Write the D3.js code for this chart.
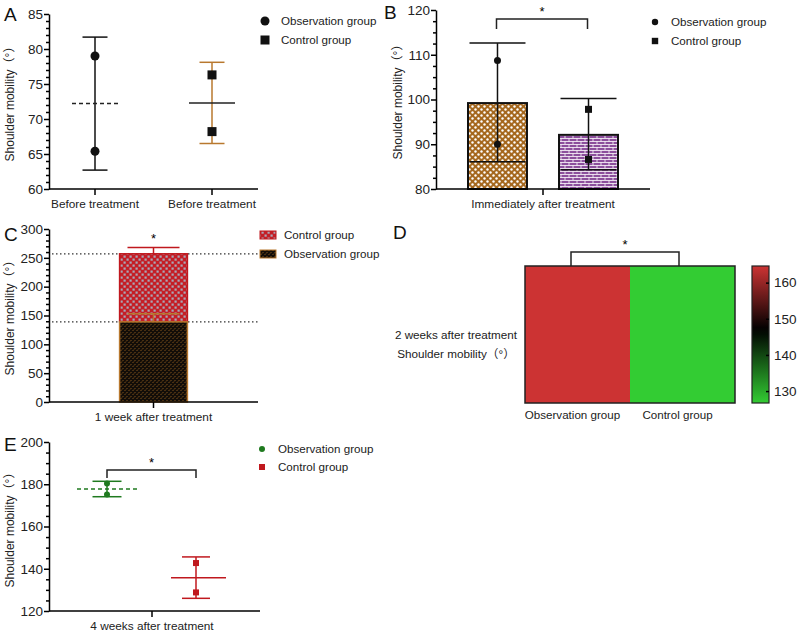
<!DOCTYPE html>
<html>
<head>
<meta charset="utf-8">
<script src="https://cdn.jsdelivr.net/npm/d3@7"></script>
<style>
  body { margin: 0; background: #fff; }
  svg { font-family: "Liberation Sans", Arial, "Noto Sans CJK SC", sans-serif; }
  .axis text { font-size: 13.5px; fill: #222; }
  .axis path, .axis line { stroke: #000; stroke-width: 1.5; }
</style>
</head>
<body>
<div id="chart"></div>
<script>
// ---- data ----
// A: before treatment
var groupsA = ["Observation group", "Control group"];
var catLabelsA = ["Before treatment", "Before treatment"];
var pointsA = [[79.0, 65.4], [76.3, 68.2]];
var meanA = [72.2, 72.3];
var lowA = [62.7, 66.5];
var highA = [81.7, 78.1];
var ticksA = [60, 65, 70, 75, 80, 85];

// B: immediately after treatment
var groupsB = ["Observation group", "Control group"];
var meanB = [99.2, 92.1];
var lowB = [86.1, 84.3];
var highB = [112.6, 100.2];
var pointsB = [[108.7, 90.0], [97.8, 86.6]];
var ticksB = [80, 90, 100, 110, 120];

// C: 1 week after treatment (stacked)
var groupsC = ["Control group", "Observation group"];
var meanC = [118, 139];     // segment sizes: control on top, observation at bottom
var errTopC = [268, 153];   // absolute y of error caps
var ticksC = [0, 50, 100, 150, 200, 250, 300];

// D: 2 weeks after treatment heatmap
var groupsD = ["Observation group", "Control group"];
var valuesD = [164.6, 126.7];
var ticksD = [130, 140, 150, 160];

// E: 4 weeks after treatment
var groupsE = ["Observation group", "Control group"];
var pointsE = [[180.3, 175.2], [142.7, 128.8]];
var meanE = [177.8, 135.7];
var lowE = [174.1, 126.0];
var highE = [181.4, 145.6];
var ticksE = [120, 140, 160, 180, 200];

var brown = "#b8782e", black = "#111", green = "#1f7a1f", red = "#c0181e";
var titleText = "Shoulder mobility（°）";
var legendSize = "11.6px";

var svg = d3.select("#chart").append("svg")
    .attr("width", 800).attr("height", 635);

// ---- patterns ----
var defs = svg.append("defs");
var p1 = defs.append("pattern").attr("id", "dotsBrown").attr("patternUnits", "userSpaceOnUse")
    .attr("width", 6).attr("height", 6);
p1.append("rect").attr("width", 6).attr("height", 6).attr("fill", "#a5681e");
p1.append("circle").attr("cx", 1.5).attr("cy", 1.5).attr("r", 1.2).attr("fill", "#fff");
p1.append("circle").attr("cx", 4.5).attr("cy", 4.5).attr("r", 1.2).attr("fill", "#fff");

var p2 = defs.append("pattern").attr("id", "brickPurple").attr("patternUnits", "userSpaceOnUse")
    .attr("width", 8).attr("height", 6);
p2.append("rect").attr("width", 8).attr("height", 6).attr("fill", "#8c4f9c");
p2.append("path").attr("d", "M0,0.5H8M0,3.5H8M1,0.5V3.5M5,3.5V6.5")
    .attr("stroke", "#fff").attr("stroke-width", 0.8);

var p3 = defs.append("pattern").attr("id", "checkRed").attr("patternUnits", "userSpaceOnUse")
    .attr("width", 6).attr("height", 6);
p3.append("rect").attr("width", 6).attr("height", 6).attr("fill", "#c41e26");
p3.append("rect").attr("x", 0.5).attr("y", 0.5).attr("width", 2.2).attr("height", 2.2).attr("fill", "#a8a8b8");
p3.append("rect").attr("x", 3.5).attr("y", 3.5).attr("width", 2.2).attr("height", 2.2).attr("fill", "#a8a8b8");

var p4 = defs.append("pattern").attr("id", "darkBrown").attr("patternUnits", "userSpaceOnUse")
    .attr("width", 4).attr("height", 4);
p4.append("rect").attr("width", 4).attr("height", 4).attr("fill", "#120d08");
p4.append("path").attr("d", "M0.5,3L2,1.5M2.5,1L3.5,0").attr("stroke", "#9a6320").attr("stroke-width", 0.8);

// ---- helpers ----
function yAxis(g, y, major, minorStep) {
    var d = y.domain();
    var minor = d3.range(d[0], d[1] + 0.001, minorStep).filter(v => major.indexOf(v) < 0);
    g.append("g").attr("class", "axis")
        .call(d3.axisLeft(y).tickValues(minor).tickSize(3).tickSizeOuter(0).tickFormat(""))
        .select(".domain").remove();
    g.append("g").attr("class", "axis")
        .call(d3.axisLeft(y).tickValues(major).tickSize(5).tickSizeOuter(0).tickPadding(1));
}
function xAxis(g, xs, labels, x0, x1, y0) {
    var ax = g.append("g").attr("class", "axis").attr("transform", "translate(0," + y0 + ")");
    ax.append("line").attr("x1", x0).attr("x2", x1);
    var t = ax.selectAll(".t").data(labels).enter().append("g")
        .attr("transform", (d, i) => "translate(" + xs(i) + ",0)");
    t.append("line").attr("y2", 6);
    t.append("text").attr("y", 19).attr("text-anchor", "middle").style("font-size", "11.8px").text(d => d);
}
function yTitle(g, x, yc) {
    g.append("text").attr("transform", "translate(" + x + "," + yc + ") rotate(-90)")
        .attr("text-anchor", "middle").style("font-size", "12px").attr("fill", "#222")
        .text(titleText);
}
function letter(x, y, s) {
    svg.append("text").attr("x", x).attr("y", y).style("font-size", "19px").attr("fill", "#111").text(s);
}
function bracket(g, xa, xb, top, bottom) {
    g.append("path").attr("d", "M" + xa + "," + bottom + "V" + top + "H" + xb + "V" + bottom)
        .attr("fill", "none").attr("stroke", "#222").attr("stroke-width", 1.5);
    g.append("text").attr("x", (xa + xb) / 2).attr("y", top - 3).attr("text-anchor", "middle")
        .style("font-size", "13px").text("*");
}
function legendItem(g, x, y, shape, size, color, label, fill) {
    if (shape === "circle")
        g.append("circle").attr("cx", x).attr("cy", y).attr("r", size).attr("fill", color);
    else if (shape === "square")
        g.append("rect").attr("x", x - size).attr("y", y - size).attr("width", 2 * size)
            .attr("height", 2 * size).attr("fill", color);
    else
        g.append("rect").attr("x", x - 8).attr("y", y - 4).attr("width", 16).attr("height", 8)
            .attr("fill", fill).attr("stroke", color).attr("stroke-width", 1);
    g.append("text").attr("x", x + 16).attr("y", y + 4.3).style("font-size", legendSize).attr("fill", "#222").text(label);
}
function errBar(g, x, lo, hi, capW, color) {
    g.append("line").attr("x1", x).attr("x2", x).attr("y1", lo).attr("y2", hi)
        .attr("stroke", color).attr("stroke-width", 1.5);
    [lo, hi].forEach(v => g.append("line").attr("x1", x - capW / 2).attr("x2", x + capW / 2)
        .attr("y1", v).attr("y2", v).attr("stroke", color).attr("stroke-width", 1.5));
}

// ---- Panel A ----
(function () {
    var g = svg.append("g");
    var y = d3.scaleLinear().domain([60, 85]).range([189, 14]);
    var x = d3.scalePoint().domain([0, 1]).range([95, 212]);
    letter(4, 21, "A");
    yTitle(g, 14, 101);
    var colors = [black, brown];
    groupsA.forEach(function (grp, i) {
        errBar(g, x(i), y(lowA[i]), y(highA[i]), 25, colors[i]);
        g.append("line").attr("x1", x(i) - 23).attr("x2", x(i) + 23)
            .attr("y1", y(meanA[i])).attr("y2", y(meanA[i]))
            .attr("stroke", "#222").attr("stroke-width", 1.5)
            .attr("stroke-dasharray", i === 0 ? "4,3" : null);
        pointsA[i].forEach(function (v) {
            if (i === 0) g.append("circle").attr("cx", x(i)).attr("cy", y(v)).attr("r", 4.5).attr("fill", black);
            else g.append("rect").attr("x", x(i) - 4.5).attr("y", y(v) - 4.5).attr("width", 9).attr("height", 9).attr("fill", black);
        });
    });
    yAxis(g.append("g").attr("transform", "translate(49,0)"), y, ticksA, 1);
    xAxis(g, x, catLabelsA, 49, 258, 189);
    legendItem(g, 265, 21, "circle", 4.5, black, groupsA[0]);
    legendItem(g, 265, 40, "square", 4.5, black, groupsA[1]);
})();

// ---- Panel B ----
(function () {
    var g = svg.append("g");
    var y = d3.scaleLinear().domain([80, 120]).range([189, 10]);
    var x = d3.scaleBand().domain(groupsB).range([468, 618]).paddingInner(0.352);
    letter(384, 19, "B");
    yTitle(g, 402, 99);
    var fills = ["url(#dotsBrown)", "url(#brickPurple)"];
    groupsB.forEach(function (grp, i) {
        g.append("rect").attr("x", x(grp)).attr("y", y(meanB[i])).attr("width", x.bandwidth())
            .attr("height", y(80) - y(meanB[i])).attr("fill", fills[i])
            .attr("stroke", "#111").attr("stroke-width", 2);
        var cx = x(grp) + x.bandwidth() / 2;
        errBar(g, cx, y(lowB[i]), y(highB[i]), 56, "#111");
        pointsB[i].forEach(function (v) {
            if (i === 0) g.append("circle").attr("cx", cx).attr("cy", y(v)).attr("r", 3.5).attr("fill", black);
            else g.append("rect").attr("x", cx - 3.5).attr("y", y(v) - 3.5).attr("width", 7).attr("height", 7).attr("fill", black);
        });
    });
    var c0 = x(groupsB[0]) + x.bandwidth() / 2, c1 = x(groupsB[1]) + x.bandwidth() / 2;
    bracket(g, c0 - 1, c1 - 1, 19, 29);
    yAxis(g.append("g").attr("transform", "translate(436,0)"), y, ticksB, 2.5);
    xAxis(g, () => 543, ["Immediately after treatment"], 436, 650, 189);
    legendItem(g, 655, 22, "circle", 3.2, black, groupsB[0]);
    legendItem(g, 655, 41, "square", 3.2, black, groupsB[1]);
})();

// ---- Panel C ----
(function () {
    var g = svg.append("g");
    var y = d3.scaleLinear().domain([0, 300]).range([402, 229]);
    var x = d3.scaleBand().domain(["1 week after treatment"]).range([49, 258]).padding(0.51);
    letter(4, 241, "C");
    yTitle(g, 14, 315);
    var obs = meanC[1], tot = meanC[0] + meanC[1];
    [tot, obs].forEach(v => g.append("line").attr("x1", 52).attr("x2", 258)
        .attr("y1", y(v)).attr("y2", y(v)).attr("stroke", "#333").attr("stroke-width", 1.2)
        .attr("stroke-dasharray", "1.5,2.5"));
    var bx = x.domain()[0], cx = x(bx) + x.bandwidth() / 2;
    g.append("rect").attr("x", x(bx)).attr("y", y(tot)).attr("width", x.bandwidth())
        .attr("height", y(obs) - y(tot)).attr("fill", "url(#checkRed)")
        .attr("stroke", red).attr("stroke-width", 1.5);
    g.append("line").attr("x1", cx).attr("x2", cx).attr("y1", y(obs)).attr("y2", y(errTopC[1])).attr("stroke", brown).attr("stroke-width", 1.5);
    g.append("line").attr("x1", cx - 26).attr("x2", cx + 26).attr("y1", y(errTopC[1])).attr("y2", y(errTopC[1])).attr("stroke", brown).attr("stroke-width", 1.5);
    g.append("rect").attr("x", x(bx)).attr("y", y(obs)).attr("width", x.bandwidth())
        .attr("height", y(0) - y(obs)).attr("fill", "url(#darkBrown)")
        .attr("stroke", brown).attr("stroke-width", 1.5);
    g.append("line").attr("x1", cx).attr("x2", cx).attr("y1", y(tot)).attr("y2", y(errTopC[0])).attr("stroke", red).attr("stroke-width", 1.5);
    g.append("line").attr("x1", cx - 26).attr("x2", cx + 26).attr("y1", y(errTopC[0])).attr("y2", y(errTopC[0])).attr("stroke", red).attr("stroke-width", 1.5);
    g.append("text").attr("x", cx).attr("y", y(errTopC[0]) - 4).attr("text-anchor", "middle").style("font-size", "13px").text("*");
    yAxis(g.append("g").attr("transform", "translate(49,0)"), y, ticksC, 10);
    xAxis(g, () => cx, ["1 week after treatment"], 49, 258, 402);
    legendItem(g, 268, 235, "patch", 0, red, groupsC[0], "url(#checkRed)");
    legendItem(g, 268, 254, "patch", 0, brown, groupsC[1], "url(#darkBrown)");
})();

// ---- Panel D ----
(function () {
    var g = svg.append("g");
    letter(393, 239, "D");
    var x = d3.scaleBand().domain(groupsD).range([525, 735]);
    var top = 266, bot = 403;
    var color = d3.scaleLinear().domain([126.7, 147, 164.6]).range(["#33cc33", "#000000", "#cc3333"]);
    groupsD.forEach(function (grp, i) {
        g.append("rect").attr("x", x(grp)).attr("y", top).attr("width", x.bandwidth())
            .attr("height", bot - top).attr("fill", color(valuesD[i]));
        g.append("text").attr("x", x(grp) + x.bandwidth() / 2 - 5).attr("y", 419).attr("text-anchor", "middle")
            .style("font-size", "11.6px").attr("fill", "#222").text(grp);
    });
    g.append("rect").attr("x", 525).attr("y", top).attr("width", 210).attr("height", bot - top)
        .attr("fill", "none").attr("stroke", "#222").attr("stroke-width", 1.5);
    bracket(g, 571, 679, 252, top);
    g.append("text").attr("x", 456).attr("y", 339).attr("text-anchor", "middle").style("font-size", "11.7px").attr("fill", "#222").text("2 weeks after treatment");
    g.append("text").attr("x", 456).attr("y", 358).attr("text-anchor", "middle").style("font-size", "11.7px").attr("fill", "#222").text(titleText);
    // colour bar
    var cy = d3.scaleLinear().domain([126.7, 164.6]).range([bot, top]);
    var grad = defs.append("linearGradient").attr("id", "cbar").attr("x1", 0).attr("x2", 0).attr("y1", 1).attr("y2", 0);
    d3.range(0, 1.0001, 0.05).forEach(t => {
        grad.append("stop").attr("offset", t).attr("stop-color", color(cy.invert(bot - t * (bot - top))));
    });
    g.append("rect").attr("x", 752).attr("y", top).attr("width", 17).attr("height", bot - top)
        .attr("fill", "url(#cbar)").attr("stroke", "#222").attr("stroke-width", 1.2);
    var ax = g.append("g").attr("class", "axis").attr("transform", "translate(769,0)")
        .call(d3.axisRight(cy).tickValues(ticksD).tickSize(-3).tickPadding(5));
    ax.select(".domain").remove();
})();

// ---- Panel E ----
(function () {
    var g = svg.append("g");
    var y = d3.scaleLinear().domain([120, 200]).range([611, 442]);
    var x = d3.scalePoint().domain([0, 1]).range([107, 196]);
    letter(4, 451, "E");
    yTitle(g, 14, 527);
    var colors = [green, red];
    groupsE.forEach(function (grp, i) {
        var capW = i === 0 ? 29 : 28;
        errBar(g, x(i), y(lowE[i]), y(highE[i]), capW, colors[i]);
        g.append("line").attr("x1", x(i) - (i === 0 ? 30 : 25)).attr("x2", x(i) + 30)
            .attr("y1", y(meanE[i])).attr("y2", y(meanE[i]))
            .attr("stroke", colors[i]).attr("stroke-width", 1.5)
            .attr("stroke-dasharray", i === 0 ? "4,3" : null);
        pointsE[i].forEach(function (v) {
            if (i === 0) g.append("circle").attr("cx", x(i)).attr("cy", y(v)).attr("r", 3).attr("fill", green);
            else g.append("rect").attr("x", x(i) - 3).attr("y", y(v) - 3).attr("width", 6).attr("height", 6).attr("fill", red);
        });
    });
    bracket(g, x(0), x(1), 470, 478);
    yAxis(g.append("g").attr("transform", "translate(49,0)"), y, ticksE, 5);
    xAxis(g, () => 152, ["4 weeks after treatment"], 49, 260, 611);
    legendItem(g, 262, 449, "circle", 3, green, groupsE[0]);
    legendItem(g, 262, 467, "square", 3, red, groupsE[1]);
})();
</script>
</body>
</html>
